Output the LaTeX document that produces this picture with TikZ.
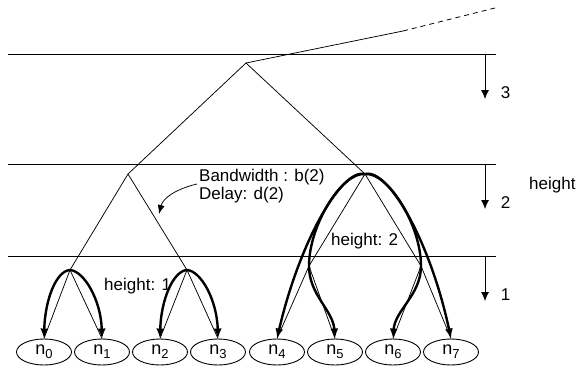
\documentclass[tikz,border=0pt]{standalone}
\usepackage{fontspec}
\setmainfont{Liberation Sans}
\usetikzlibrary{arrows.meta,shapes.geometric}
\newcommand{\leafsub}[1]{n\raisebox{-4pt}{\fontsize{13}{13}\selectfont #1}}
\begin{document}
\begin{tikzpicture}[x=1pt,y=-1pt,
 levelline/.style={line width=0.85pt},
 tree/.style={line width=0.75pt},
 route/.style={line width=2.4pt,-{Latex[length=10pt,width=8pt]}},
 hgt/.style={line width=0.85pt,-{Latex[length=9pt,width=8pt]}},
 leaf/.style={ellipse,draw,line width=0.9pt,minimum width=55pt,minimum height=26pt,inner sep=0pt,font=\fontsize{18}{18}\selectfont},
 lbl/.style={font=\fontsize{17}{17}\selectfont,inner sep=0pt}]
\useasboundingbox (0,0) rectangle (587,372);

% level lines
\coordinate (A3) at (8,54);  \coordinate (B3) at (496,54);
\coordinate (A2) at (8,164); \coordinate (B2) at (496,164);
\coordinate (A1) at (8,256); \coordinate (B1) at (496,256);
\draw[levelline] (A3) -- (B3);
\draw[levelline] (A2) -- (B2);
\draw[levelline] (A1) -- (B1);

% tree points
\coordinate (R) at (246,63);
\coordinate (L) at (128,174);
\coordinate (M) at (365,174);
\coordinate (LL) at (70,270);
\coordinate (LR) at (187,270);
\coordinate (ML) at (309,266);
\coordinate (MR) at (421,266);
\coordinate (T1) at (403,31);
\coordinate (T2) at (495,8);

% leaves
\node[leaf] (n0) at (44,352) {\leafsub{0}};
\node[leaf] (n1) at (102,352) {\leafsub{1}};
\node[leaf] (n2) at (160,352) {\leafsub{2}};
\node[leaf] (n3) at (218,352) {\leafsub{3}};
\node[leaf] (n4) at (277,352) {\leafsub{4}};
\node[leaf] (n5) at (335,352) {\leafsub{5}};
\node[leaf] (n6) at (393,352) {\leafsub{6}};
\node[leaf] (n7) at (451,352) {\leafsub{7}};

% thin tree
\draw[tree] (T1) -- (R);
\draw[tree,dash pattern=on 5pt off 4pt] (T1) -- (T2);
\draw[tree] (L) -- (R) -- (M);
\draw[tree] (LL) -- (L) -- (LR);
\draw[tree] (n0.north) -- (LL) -- (n1.north);
\draw[tree] (n2.north) -- (LR) -- (n3.north);
\draw[tree] (M) -- (ML);
\draw[tree] (M) -- (MR);
\draw[tree] (n4.north) -- (ML) -- (n5.north);
\draw[tree] (n6.north) -- (MR) -- (n7.north);

% thick routes
\draw[route] (LL) .. controls (56,271) and (45,300) .. (n0.north);
\draw[route] (LL) .. controls (84,271) and (101,300) .. (n1.north);
\draw[route] (LR) .. controls (173,271) and (161,300) .. (n2.north);
\draw[route] (LR) .. controls (201,271) and (217,300) .. (n3.north);
\draw[route] (M) .. controls (342,168) and (300,240) .. (n4.north);
\draw[route] (M) .. controls (342,172) and (309,225) .. (ML) .. controls (309,295) and (333,310) .. (n5.north);
\draw[route] (M) .. controls (388,172) and (421,225) .. (MR) .. controls (421,295) and (395,310) .. (n6.north);
\draw[route] (M) .. controls (388,168) and (430,240) .. (n7.north);

% annotation
\node[lbl,anchor=west,align=left] (bw) at (199,186) {Bandwidth : b(2)\\[1pt]Delay: d(2)};
\draw[tree,-{Latex[length=9pt,width=7pt]}] ([xshift=-2pt,yshift=2pt]bw.west) .. controls (176,189) and (163,198) .. (159,214);

\node[lbl,anchor=base west] (h1) at (104,290) {height: 1};
\node[lbl,anchor=base west] (h2) at (331,245) {height: 2};
\node[lbl,anchor=base west] (hh) at (529,189) {height};

% height arrows
\coordinate (V3a) at (485,54);  \coordinate (V3b) at (485,99);
\coordinate (V2a) at (485,164); \coordinate (V2b) at (485,209);
\coordinate (V1a) at (485,256); \coordinate (V1b) at (485,301);
\draw[hgt] (V3a) -- (V3b);
\draw[hgt] (V2a) -- (V2b);
\draw[hgt] (V1a) -- (V1b);
\node[lbl] (l3) at (505.5,93) {3};
\node[lbl] (l2) at (505.5,203) {2};
\node[lbl] (l1) at (505.5,295) {1};
\end{tikzpicture}
\end{document}
